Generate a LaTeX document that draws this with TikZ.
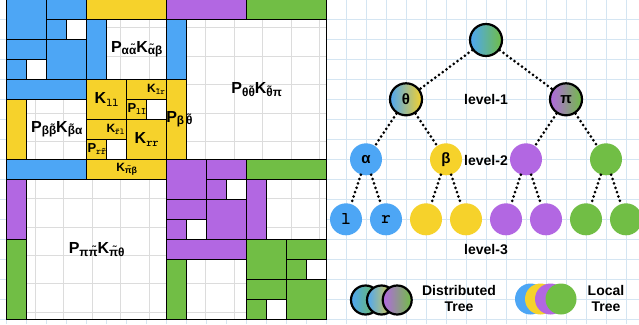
\documentclass[tikz,border=0pt]{standalone}
\usepackage{fontspec}
\setmainfont{Liberation Sans}
\newcommand\monof{\ttfamily\bfseries}
\definecolor{cblue}{RGB}{77,166,245}
\definecolor{cyel}{RGB}{246,210,43}
\definecolor{cpur}{RGB}{178,103,226}
\definecolor{cgrn}{RGB}{113,190,69}
\definecolor{gridb}{RGB}{212,229,242}
\definecolor{gridg}{RGB}{220,220,220}
\newcommand\lsub[1]{\raisebox{-0.3ex}{\scalebox{0.74}{#1}}}
\newcommand\leaf[3]{%
\begin{scope}[shift={(#1,#2)}]
\draw[blk,fill=#3] (0,0) rectangle (2,2);
\draw[blk,fill=#3] (2,0) rectangle (4,1);
\draw[blk,fill=#3] (2,1) rectangle (3,2);
\draw[blk,fill=white] (3,1) rectangle (4,2);
\draw[blk,fill=#3] (0,2) rectangle (2,3);
\draw[blk,fill=#3] (0,3) rectangle (1,4);
\draw[blk,fill=white] (1,3) rectangle (2,4);
\draw[blk,fill=#3] (2,2) rectangle (4,4);
\end{scope}}
\begin{document}
\begin{tikzpicture}[x=1pt,y=-1pt,
  blk/.style={draw=black,line width=1.2pt},
  lab/.style={inner sep=0pt,font=\fontsize{16}{16}\selectfont\bfseries},
  slab/.style={inner sep=0pt,font=\fontsize{12}{12}\selectfont\bfseries},
  mlab/.style={inner sep=0pt,font=\fontsize{13}{13}\selectfont\bfseries},
  tnode/.style={circle,minimum size=32pt,inner sep=0pt,font=\fontsize{15}{15}\selectfont\bfseries},
  bnode/.style={tnode,draw=black,line width=2.2pt},
  edge/.style={line width=3pt,line cap=round,dash pattern=on 0pt off 4.6pt},
  lvl/.style={font=\fontsize{14}{14}\selectfont\bfseries,inner sep=0pt},
]
\useasboundingbox (0,0) rectangle (639,324);
\fill[white] (0,0) rectangle (639,324);
\foreach \i in {0,...,31} \draw[gridb,line width=0.8pt] (6.5+20*\i,0) -- (6.5+20*\i,324);
\foreach \j in {1,...,16} \draw[gridb,line width=0.8pt] (0,-0.7+20*\j) -- (639,-0.7+20*\j);
% ---------------- matrix ----------------
\begin{scope}[shift={(6.7pt,0.7pt)},x=20pt,y=-20pt]
\fill[white] (0,0) rectangle (16,16);
\draw[gridg,line width=0.8pt] (0,0) grid (16,16);
\leaf{0}{0}{cblue}
\leaf{4}{4}{cyel}
\leaf{8}{8}{cpur}
\leaf{12}{12}{cgrn}
% alpha-beta
\draw[blk,fill=cyel] (4,0) rectangle (8,1);
\draw[blk,fill=cblue] (4,1) rectangle (5,4);
\draw[blk] (5,1) rectangle (8,4);
% beta-alpha
\draw[blk,fill=cblue] (0,4) rectangle (4,5);
\draw[blk,fill=cyel] (0,5) rectangle (1,8);
\draw[blk] (1,5) rectangle (4,8);
% purple-green
\draw[blk,fill=cgrn] (12,8) rectangle (16,9);
\draw[blk,fill=cpur] (12,9) rectangle (13,12);
\draw[blk] (13,9) rectangle (16,12);
% green-purple
\draw[blk,fill=cpur] (8,12) rectangle (12,13);
\draw[blk,fill=cgrn] (8,13) rectangle (9,16);
\draw[blk] (9,13) rectangle (12,16);
% theta-pi
\draw[blk,fill=cpur] (8,0) rectangle (12,1);
\draw[blk,fill=cgrn] (12,0) rectangle (16,1);
\draw[blk,fill=cblue] (8,1) rectangle (9,4);
\draw[blk,fill=cyel] (8,4) rectangle (9,8);
\draw[blk] (9,1) rectangle (16,8);
% pi-theta
\draw[blk,fill=cblue] (0,8) rectangle (4,9);
\draw[blk,fill=cyel] (4,8) rectangle (8,9);
\draw[blk,fill=cpur] (0,9) rectangle (1,12);
\draw[blk,fill=cgrn] (0,12) rectangle (1,16);
\draw[blk] (1,9) rectangle (8,16);
\draw[blk] (0,0) rectangle (16,16);
% labels
\node[lab] (Lab) at (6.5,2.5) {P\lsub{αα̃}K\lsub{α̃β}};
\node[lab] (Lba) at (2.5,6.5) {P\lsub{ββ̃}K\lsub{β̃α}};
\node[lab] (Ltp) at (12.5,4.5) {P\lsub{θθ̃}K\lsub{θ̃π}};
\node[lab] (Lpt) at (4.5,12.5) {P\lsub{ππ̃}K\lsub{π̃θ}};
\node[slab] (Lpb) at (6,8.5) {K\lsub{π̃β}};
\node[lab,anchor=west] (Lbt) at (7.97,6) {P\lsub{β\,θ̃}};
\node[lab] (Kll) at (5,5) {K\lsub{\monof ll}};
\node[slab,anchor=east] (Klr) at (7.93,4.5) {K\lsub{\monof l̃r}};
\node[mlab,anchor=west] (Pll) at (6.03,5.5) {P\lsub{\monof ll̃}};
\node[slab,anchor=east] (Krl) at (5.9,6.5) {K\lsub{\monof r̃l}};
\node[mlab,anchor=west] (Prr) at (4.03,7.5) {P\lsub{\monof rr̃}};
\node[lab] (Krr) at (7,7) {K\lsub{\monof rr}};
\end{scope}
% ---------------- tree ----------------
\node[bnode,left color=cblue,right color=cgrn] (root) at (486,40) {};
\node[bnode,left color=cblue,right color=cyel] (th) at (406,99.3) {θ};
\node[bnode,left color=cpur,right color=cgrn] (pi) at (566,99.3) {π};
\node[tnode,fill=cblue] (al) at (366,159.3) {α};
\node[tnode,fill=cyel] (be) at (446,159.3) {β};
\node[tnode,fill=cpur] (pu) at (526,159.3) {};
\node[tnode,fill=cgrn] (gr) at (606,159.3) {};
\node[tnode,fill=cblue,font=\fontsize{18}{18}\selectfont\monof] (ll) at (346,219.3) {l};
\node[tnode,fill=cblue,font=\fontsize{18}{18}\selectfont\monof] (rr) at (386,219.3) {r};
\node[tnode,fill=cyel] (y1) at (426,219.3) {};
\node[tnode,fill=cyel] (y2) at (466,219.3) {};
\node[tnode,fill=cpur] (p1) at (506,219.3) {};
\node[tnode,fill=cpur] (p2) at (546,219.3) {};
\node[tnode,fill=cgrn] (g1) at (586,219.3) {};
\node[tnode,fill=cgrn] (g2) at (626,219.3) {};
\draw[edge] (root) -- (th);
\draw[edge] (root) -- (pi);
\draw[edge] (th) -- (al);
\draw[edge] (th) -- (be);
\draw[edge] (pi) -- (pu);
\draw[edge] (pi) -- (gr);
\draw[edge] (al) -- (ll);
\draw[edge] (al) -- (rr);
\draw[edge] (be) -- (y1);
\draw[edge] (be) -- (y2);
\draw[edge] (pu) -- (p1);
\draw[edge] (pu) -- (p2);
\draw[edge] (gr) -- (g1);
\draw[edge] (gr) -- (g2);
\node[lvl] (lv1) at (486,99.3) {level-1};
\node[lvl] (lv2) at (486,160) {level-2};
\node[lvl] (lv3) at (486,250) {level-3};
% ---------------- legend ----------------
\node[bnode,minimum size=29pt,left color=cblue,right color=cgrn] (d1) at (365.5,300) {};
\node[bnode,minimum size=29pt,left color=cblue,right color=cyel] (d2) at (381.5,300) {};
\node[bnode,minimum size=29pt,left color=cpur,right color=cgrn] (d3) at (397.2,300) {};
\node[lvl,align=center,font=\fontsize{14}{16.7}\selectfont\bfseries] (dt) at (459,298.5) {Distributed\\Tree};
\node[tnode,minimum size=31pt,fill=cblue] (c1) at (530.5,299) {};
\node[tnode,minimum size=31pt,fill=cyel] (c2) at (540.5,299) {};
\node[tnode,minimum size=31pt,fill=cpur] (c3) at (550.5,299) {};
\node[tnode,minimum size=31pt,fill=cgrn] (c4) at (561,299) {};
\node[lvl,align=center,font=\fontsize{14}{16.7}\selectfont\bfseries] (lt) at (606,298.5) {Local\\Tree};
\end{tikzpicture}
\end{document}
